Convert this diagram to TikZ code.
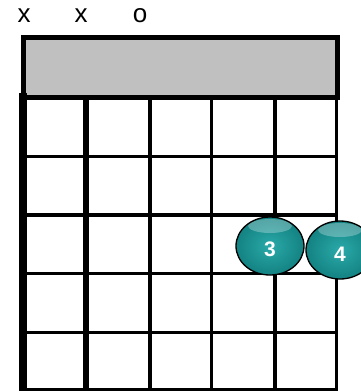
\documentclass[tikz,border=0pt]{standalone}
\usepackage{fontspec}
\setmainfont{Liberation Sans}
\usetikzlibrary{shapes.geometric}
\definecolor{dotteal}{RGB}{24,162,162}
\definecolor{nutgray}{RGB}{192,192,192}
\tikzset{
  fretline/.style={line width=3.5pt, black},
  mutelabel/.style={anchor=base, inner sep=0pt, font=\fontsize{26}{26}\selectfont},
  fingerdot/.style={ellipse, minimum width=68pt, minimum height=58pt, inner sep=0pt,
    draw=black, line width=1.3pt, text=white, text height=22pt,
    font=\fontsize{21}{21}\selectfont\bfseries,
    inner color=dotteal!92!white, outer color=dotteal!80!black,
    path picture={\fill[white, opacity=0.28] ([yshift=-9pt]path picture bounding box.north) ellipse (22pt and 7pt);}}
}
\begin{document}
\begin{tikzpicture}[x=1pt,y=-1pt]
\useasboundingbox (0,0) rectangle (360,391);
\fill[white] (0,0) rectangle (360,391);
% string status labels
\node[mutelabel] (s1) at (24,22) {x};
\node[mutelabel] (s2) at (81,22) {x};
\node[mutelabel] (s3) at (140,22) {o};
% nut
\draw[line width=5pt, fill=nutgray] (23.5,37.5) rectangle (337.5,97.5);
% horizontal frets
\foreach \y in {156.5,215,273.5,332.5,389.5}
  \draw[fretline] (19,\y) -- (338,\y);
% vertical strings
\foreach \x in {150,211.5,275,336.5}
  \draw[fretline] (\x,97.5) -- (\x,391);
\draw[line width=6pt] (86,97.5) -- (86,391);
\draw[line width=8pt] (23,93) -- (23,391);
% finger dots
\node[fingerdot] (f3) at (270,246) {3};
\node[fingerdot] (f4) at (340,250) {4};
\end{tikzpicture}
\end{document}
